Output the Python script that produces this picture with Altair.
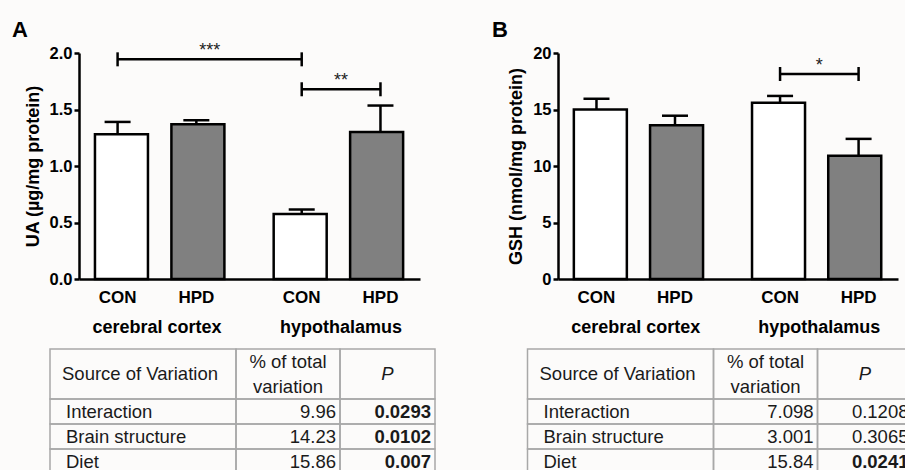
import altair as alt
import pandas as pd

FONT = "Liberation Sans"
INK = "black"

# ---------------- data ----------------
groups = ["cerebral cortex", "hypothalamus"]
diets = ["CON", "HPD"]

# Panel A: uric acid (µg/mg protein), bars in order cc-CON, cc-HPD, hyp-CON, hyp-HPD
ua_mean = [1.28, 1.37, 0.575, 1.30]
ua_sem = [0.11, 0.035, 0.04, 0.235]
# significance brackets (indices into bar order)
ua_sig_left = [0, 2]
ua_sig_right = [2, 3]
ua_sig_level = [1.944, 1.679]
ua_sig_text = ["***", "**"]

# Panel B: GSH (nmol/mg protein)
gsh_mean = [15.0, 13.6, 15.6, 10.9]
gsh_sem = [0.95, 0.85, 0.6, 1.5]
gsh_sig_left = [2]
gsh_sig_right = [3]
gsh_sig_level = [18.14]
gsh_sig_text = ["*"]

# two-way ANOVA tables
table_headers = ["Source of Variation", "% of total\nvariation", "P"]
sources = ["Interaction", "Brain structure", "Diet"]
ua_pct = [9.96, 14.23, 15.86]
ua_p = [0.0293, 0.0102, 0.007]
gsh_pct = [7.098, 3.001, 15.84]
gsh_p = [0.1208, 0.3065, 0.0241]

# ---------------- layout (pixels / scale units) ----------------
W, H = 905, 470
GROUP_STEP = 2.338          # distance between groups in bar-slot units
X_DOMAIN = [-0.49, 3.84]
PLOT_Y = [279, 53]
PANEL_A_X = [79, 420]
PANEL_B_X = [558, 898]
COL_W = [186, 104, 95]
ROW_H = [50, 25, 25, 25]
TABLE_A_X = [50, 435]
TABLE_B_X = [527.5, 912.5]
TABLE_Y = [349, 474]


def panel(means, sems, s_left, s_right, s_level, s_text, y_domain, y_values,
          y_fmt, y_title, x_range, letter, letter_x):
    rows = []
    for gi, g in enumerate(groups):
        for di, d in enumerate(diets):
            rows.append({"group": g, "diet": d, "slot": gi * GROUP_STEP + di})
    bars = pd.DataFrame(rows)
    bars["mean"] = means
    bars["sem"] = sems
    bars["top"] = bars["mean"] + bars["sem"]

    sig = pd.DataFrame({"left": s_left, "right": s_right,
                        "level": s_level, "text": s_text})
    sig["x1"] = [bars["slot"][i] for i in s_left]
    sig["x2"] = [bars["slot"][i] for i in s_right]
    sig["mid"] = (sig["x1"] + sig["x2"]) / 2
    ends = pd.concat([
        pd.DataFrame({"slot": sig["x1"], "level": sig["level"]}),
        pd.DataFrame({"slot": sig["x2"], "level": sig["level"]}),
    ])

    grp = pd.DataFrame({"group": groups})
    grp["center"] = [gi * GROUP_STEP + 0.5 for gi in range(len(groups))]

    xs = alt.Scale(domain=X_DOMAIN, range=x_range, nice=False, zero=False)
    ys = alt.Scale(domain=y_domain, range=PLOT_Y, nice=False, zero=True)

    x_axis = alt.Axis(orient="bottom", offset=-(H - PLOT_Y[0]), labels=False,
                      ticks=False, domainColor=INK, domainWidth=2.5,
                      title=None, grid=False, zindex=1)
    y_axis = alt.Axis(orient="left", offset=-x_range[0], values=y_values,
                      format=y_fmt, tickSize=5, tickWidth=2.5, tickColor=INK,
                      domainColor=INK, domainWidth=2.5, labelFont=FONT,
                      labelFontSize=16.5, labelFontWeight="bold",
                      labelColor=INK, labelPadding=2, title=y_title,
                      titleFont=FONT, titleFontSize=18, titleFontWeight="bold",
                      titleColor=INK, titlePadding=7, grid=False, zindex=1)

    base = alt.Chart(bars)
    bar = base.mark_bar(size=53, stroke=INK, strokeWidth=2.5).encode(
        x=alt.X("slot:Q", scale=xs, axis=x_axis),
        y=alt.Y("mean:Q", scale=ys, axis=y_axis),
        color=alt.Color("diet:N", scale=alt.Scale(domain=diets,
                        range=["white", "#808080"]), legend=None),
    )
    err = base.mark_rule(color=INK, strokeWidth=2.5).encode(
        x=alt.X("slot:Q", scale=xs, axis=None),
        y=alt.Y("mean:Q", scale=ys, axis=None),
        y2="top:Q",
    )
    cap = base.mark_tick(orient="horizontal", size=26, thickness=2.5,
                         color=INK, opacity=1).encode(
        x=alt.X("slot:Q", scale=xs, axis=None),
        y=alt.Y("top:Q", scale=ys, axis=None),
    )
    diet_lab = base.mark_text(font=FONT, fontSize=17, fontWeight="bold",
                              color=INK, baseline="alphabetic").encode(
        x=alt.X("slot:Q", scale=xs, axis=None),
        y=alt.value(303),
        text="diet:N",
    )
    br = alt.Chart(sig).mark_rule(color=INK, strokeWidth=2.5).encode(
        x=alt.X("x1:Q", scale=xs, axis=None),
        x2="x2:Q",
        y=alt.Y("level:Q", scale=ys, axis=None),
    )
    br_end = alt.Chart(ends).mark_tick(orient="vertical", size=14,
                                       thickness=2.5, color=INK,
                                       opacity=1).encode(
        x=alt.X("slot:Q", scale=xs, axis=None),
        y=alt.Y("level:Q", scale=ys, axis=None),
    )
    stars = alt.Chart(sig).mark_text(font=FONT, fontSize=18, color="#222",
                                     baseline="alphabetic", dy=-3).encode(
        x=alt.X("mid:Q", scale=xs, axis=None),
        y=alt.Y("level:Q", scale=ys, axis=None),
        text="text:N",
    )
    grp_lab = alt.Chart(grp).mark_text(font=FONT, fontSize=18,
                                       fontWeight="bold", color=INK,
                                       baseline="alphabetic").encode(
        x=alt.X("center:Q", scale=xs, axis=None),
        y=alt.value(333),
        text="group:N",
    )
    let = alt.Chart(pd.DataFrame({"t": [letter]})).mark_text(
        font=FONT, fontSize=22, fontWeight="bold", color=INK, align="left",
        baseline="alphabetic").encode(
        x=alt.value(letter_x), y=alt.value(37), text="t:N")
    return [bar, err, cap, br, br_end, stars, diet_lab, grp_lab, let]


def table(pcts, ps, x_range):
    col_start = [sum(COL_W[:i]) for i in range(len(COL_W))]
    col_end = [sum(COL_W[:i + 1]) for i in range(len(COL_W))]
    row_start = [sum(ROW_H[:i]) for i in range(len(ROW_H))]
    row_end = [sum(ROW_H[:i + 1]) for i in range(len(ROW_H))]
    cells = pd.DataFrame([
        {"x0": col_start[c], "x1": col_end[c], "y0": row_start[r], "y1": row_end[r]}
        for r in range(len(ROW_H)) for c in range(len(COL_W))
    ])
    xs = alt.Scale(domain=[0, sum(COL_W)], range=x_range, nice=False, zero=False)
    ys = alt.Scale(domain=[0, sum(ROW_H)], range=TABLE_Y, nice=False, zero=False)
    X = lambda f: alt.X(f, scale=xs, axis=None)
    Y = lambda f: alt.Y(f, scale=ys, axis=None)

    rect = alt.Chart(cells).mark_rect(fillOpacity=0, stroke="#a8a8a8",
                                      strokeWidth=1.5).encode(
        x=X("x0:Q"), x2="x1:Q", y=Y("y0:Q"), y2="y1:Q")

    hy = (row_start[0] + row_end[0]) / 2
    h1 = pd.DataFrame({"t": [table_headers[0]], "x": [col_start[0]], "y": [hy]})
    h2 = pd.DataFrame({"t": [table_headers[1]],
                       "x": [(col_start[1] + col_end[1]) / 2], "y": [hy]})
    h3 = pd.DataFrame({"t": [table_headers[2]],
                       "x": [(col_start[2] + col_end[2]) / 2], "y": [hy]})
    txt = dict(font=FONT, fontSize=18.5, color="#1a1a1a", baseline="middle")
    l_h1 = alt.Chart(h1).mark_text(align="left", dx=12, **txt).encode(
        x=X("x:Q"), y=Y("y:Q"), text="t:N")
    l_h2 = alt.Chart(h2).mark_text(align="center", lineBreak="\n",
                                   lineHeight=25, dy=-12.5, **txt).encode(
        x=X("x:Q"), y=Y("y:Q"), text="t:N")
    l_h3 = alt.Chart(h3).mark_text(align="center", fontStyle="italic",
                                   **txt).encode(
        x=X("x:Q"), y=Y("y:Q"), text="t:N")

    body = pd.DataFrame({
        "src": sources,
        "pct": [str(v) for v in pcts],
        "p": [str(v) for v in ps],
        "sig": [v < 0.05 for v in ps],
        "y": [(row_start[i + 1] + row_end[i + 1]) / 2 for i in range(len(sources))],
    })
    body["xs"] = col_start[0]
    body["x2e"] = col_end[1]
    body["x3e"] = col_end[2]
    b = alt.Chart(body)
    l_src = b.mark_text(align="left", dx=16, **txt).encode(
        x=X("xs:Q"), y=Y("y:Q"), text="src:N")
    l_pct = b.mark_text(align="right", dx=-4, **txt).encode(
        x=X("x2e:Q"), y=Y("y:Q"), text="pct:N")
    l_p = b.transform_filter("!datum.sig").mark_text(
        align="right", dx=-4, **txt).encode(
        x=X("x3e:Q"), y=Y("y:Q"), text="p:N")
    l_pb = b.transform_filter("datum.sig").mark_text(
        align="right", dx=-4, fontWeight="bold", **txt).encode(
        x=X("x3e:Q"), y=Y("y:Q"), text="p:N")
    return [rect, l_h1, l_h2, l_h3, l_src, l_pct, l_p, l_pb]


layers = []
layers += panel(ua_mean, ua_sem, ua_sig_left, ua_sig_right, ua_sig_level,
                ua_sig_text, [0, 2], [0, 0.5, 1.0, 1.5, 2.0], ".1f",
                "UA (µg/mg protein)", PANEL_A_X, "A", 12)
layers += panel(gsh_mean, gsh_sem, gsh_sig_left, gsh_sig_right, gsh_sig_level,
                gsh_sig_text, [0, 20], [0, 5, 10, 15, 20], "d",
                "GSH (nmol/mg protein)", PANEL_B_X, "B", 492)
layers += table(ua_pct, ua_p, TABLE_A_X)
layers += table(gsh_pct, gsh_p, TABLE_B_X)

chart = alt.layer(*layers).resolve_scale(
    x="independent", y="independent", color="independent"
).resolve_axis(
    x="independent", y="independent"
).properties(
    width=W, height=H, padding=0,
    autosize=alt.AutoSizeParams(type="none"),
    background="#fcfbfa",
).configure_view(stroke=None)

chart.save("out.html", embed_options={"renderer": "svg", "actions": False})
